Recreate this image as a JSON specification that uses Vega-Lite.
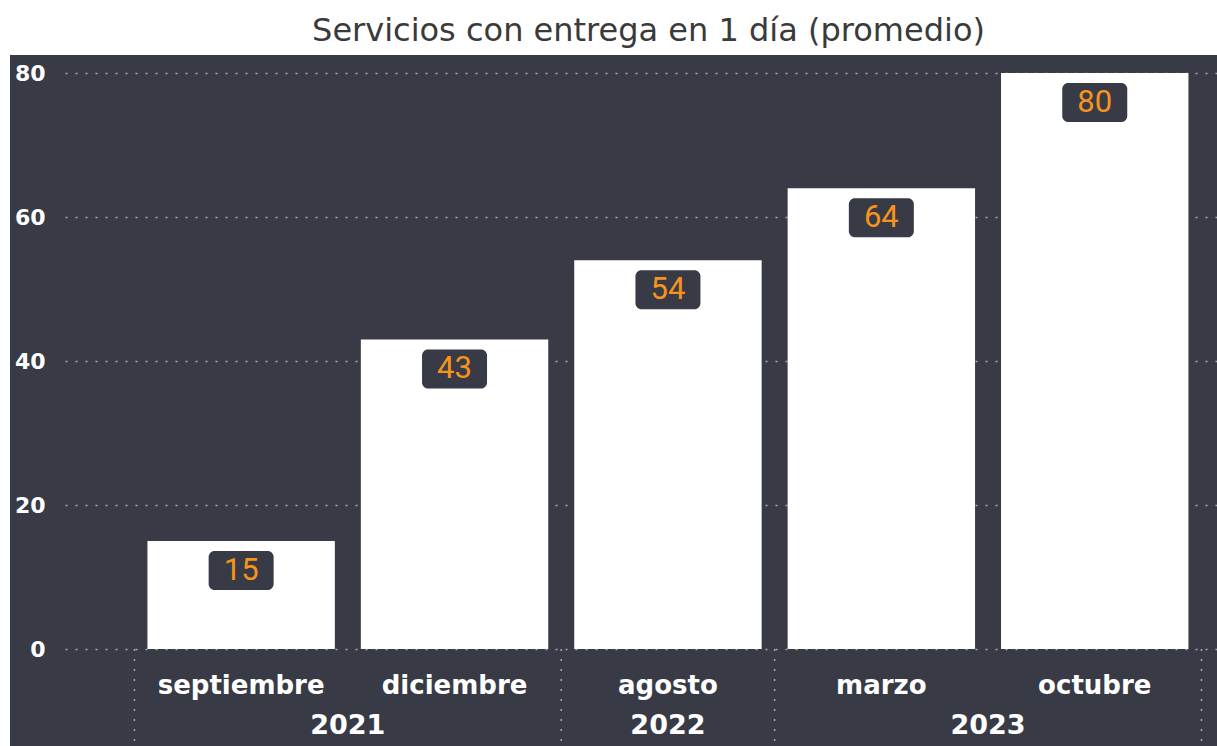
{
  "$schema": "https://vega.github.io/schema/vega-lite/v6.json",
  "width": 1207,
  "height": 691,
  "autosize": {"type": "none"},
  "padding": {"left": 10, "top": 55, "right": 0, "bottom": 0},
  "background": "white",
  "view": {"fill": "#383b46", "stroke": null},
  "title": {
    "text": "Servicios con entrega en 1 día (promedio)",
    "font": "DejaVu Sans",
    "fontSize": 32,
    "fontWeight": "normal",
    "color": "#3a3a3a",
    "anchor": "middle",
    "frame": "group",
    "baseline": "alphabetic",
    "offset": -18,
    "dx": 35
  },
  "data": {
    "values": [
      {"mes": "septiembre", "anio": "2021", "valor": 15},
      {"mes": "diciembre", "anio": "2021", "valor": 43},
      {"mes": "agosto", "anio": "2022", "valor": 54},
      {"mes": "marzo", "anio": "2023", "valor": 64},
      {"mes": "octubre", "anio": "2023", "valor": 80}
    ]
  },
  "layer": [
    {
      "mark": {"type": "bar", "color": "white"},
      "encoding": {
        "x": {
          "field": "mes",
          "type": "nominal",
          "sort": null,
          "scale": {
            "domain": ["septiembre", "diciembre", "agosto", "marzo", "octubre"],
            "paddingInner": 0.1218,
            "paddingOuter": 0.3889,
            "align": 0.828
          },
          "axis": {
            "title": null,
            "orient": "bottom",
            "offset": -97,
            "domain": false,
            "ticks": false,
            "grid": false,
            "labelAngle": 0,
            "labelPadding": 44,
            "labelBaseline": "alphabetic",
            "labelColor": "white",
            "labelFont": "DejaVu Sans",
            "labelFontWeight": "bold",
            "labelFontSize": 26,
            "labelLimit": 400
          }
        },
        "y": {
          "field": "valor",
          "type": "quantitative",
          "scale": {"domain": [-13.47, 82.5], "nice": false, "zero": false},
          "axis": {
            "title": null,
            "orient": "right",
            "values": [0, 20, 40, 60, 80],
            "domain": false,
            "grid": false,
            "ticks": true,
            "tickSize": -1157,
            "tickColor": "#a4a7ae",
            "tickDash": [2, 8],
            "tickWidth": 1.5,
            "labelPadding": -15,
            "labelAlign": "right",
            "labelColor": "white",
            "labelFont": "DejaVu Sans",
            "labelFontWeight": "bold",
            "labelFontSize": 22
          }
        },
        "y2": {"datum": 0}
      }
    },
    {
      "mark": {"type": "bar", "color": "#383b46", "width": 65, "yOffset": 10, "y2Offset": 49, "cornerRadius": 6},
      "encoding": {
        "x": {"field": "mes", "type": "nominal"},
        "y": {"field": "valor", "type": "quantitative"},
        "y2": {"field": "valor"}
      }
    },
    {
      "mark": {"type": "text", "color": "#f7941d", "font": "Roboto", "fontWeight": "normal", "fontSize": 31, "baseline": "middle", "dy": 30},
      "encoding": {
        "x": {"field": "mes", "type": "nominal"},
        "y": {"field": "valor", "type": "quantitative"},
        "text": {"field": "valor", "type": "quantitative"}
      }
    },
    {
      "data": {"values": [{"mes": "septiembre"}, {"mes": "agosto"}, {"mes": "marzo"}]},
      "mark": {"type": "rule", "color": "#a4a7ae", "strokeDash": [2, 8], "strokeWidth": 1.5},
      "encoding": {
        "x": {"field": "mes", "type": "nominal", "bandPosition": -0.0694},
        "y": {"datum": 0},
        "y2": {"datum": -13.47}
      }
    },
    {
      "data": {"values": [{"mes": "octubre"}]},
      "mark": {"type": "rule", "color": "#a4a7ae", "strokeDash": [2, 8], "strokeWidth": 1.5},
      "encoding": {
        "x": {"field": "mes", "type": "nominal", "bandPosition": 1.0694},
        "y": {"datum": 0},
        "y2": {"datum": -13.47}
      }
    },
    {
      "data": {"values": [{"mes": "diciembre", "anio": "2021"}, {"mes": "octubre", "anio": "2023"}]},
      "mark": {"type": "text", "color": "white", "font": "DejaVu Sans", "fontWeight": "bold", "fontSize": 27, "baseline": "alphabetic"},
      "encoding": {
        "x": {"field": "mes", "type": "nominal", "bandPosition": -0.0694},
        "y": {"datum": -11.8},
        "text": {"field": "anio"}
      }
    },
    {
      "data": {"values": [{"mes": "agosto", "anio": "2022"}]},
      "mark": {"type": "text", "color": "white", "font": "DejaVu Sans", "fontWeight": "bold", "fontSize": 27, "baseline": "alphabetic"},
      "encoding": {
        "x": {"field": "mes", "type": "nominal"},
        "y": {"datum": -11.8},
        "text": {"field": "anio"}
      }
    }
  ]
}
